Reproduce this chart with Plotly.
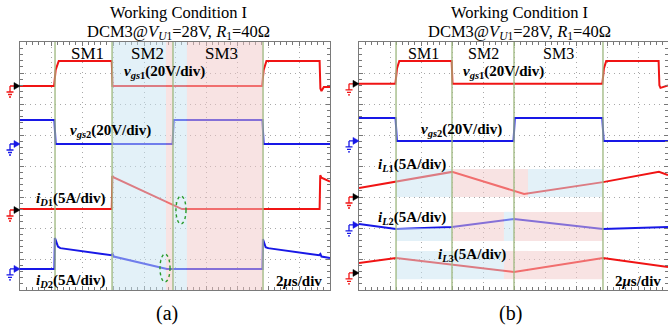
import plotly.graph_objects as go

FONT = "Liberation Serif"
RED = "#f01414"
BLUE = "#1818e6"
SHADE_BLUE = "rgba(200,228,242,0.5)"
SHADE_PINK = "rgba(242,200,200,0.5)"
EDGE_GREEN = "rgba(160,185,130,0.9)"

# ---------------- panel (a): time in us, level in screen divisions ----------------
a_vgs1_t = [0, 2.2, 2.3, 2.5, 5.92, 5.97, 15.62, 15.72, 15.9, 19.33, 19.38, 19.45, 19.6, 20]
a_vgs1_v = [6.58, 6.58, 7.1, 7.39, 7.39, 6.58, 6.58, 7.1, 7.39, 7.39, 6.5, 6.42, 6.55, 6.55]

a_vgs2_t = [0, 2.22, 2.3, 9.84, 9.92, 15.64, 15.72, 20]
a_vgs2_v = [5.48, 5.48, 4.71, 4.71, 5.48, 5.48, 4.71, 4.71]

a_iD1_t = [0, 5.92, 5.96, 6.05, 10.45, 19.33, 19.37, 19.45, 20]
a_iD1_v = [2.61, 2.61, 3.68, 3.63, 2.61, 2.61, 3.7, 3.62, 3.5]

a_iD2_t = [0, 2.22, 2.25, 2.45, 2.6, 5.9, 5.97, 6.05, 9.48, 15.64, 15.67, 15.85, 16.0, 19.3, 19.38, 19.45, 20]
a_iD2_v = [0.68, 0.68, 1.68, 1.4, 1.35, 1.12, 1.17, 1.08, 0.68, 0.68, 1.64, 1.38, 1.35, 1.12, 1.16, 1.08, 1.03]

a_edges = [2.26, 5.94, 9.87, 15.68]
a_bands = [(5.94, 9.42, SHADE_BLUE), (9.42, 9.87, SHADE_PINK),
           (9.87, 10.77, SHADE_BLUE), (10.77, 15.68, SHADE_PINK)]
a_ellipses = [(10.06, 10.71, 2.13, 3.03), (9.03, 9.68, 0.26, 1.16)]
a_grounds = [(6.58, RED, "black"), (4.71, BLUE, BLUE), (2.58, RED, "black"), (0.68, BLUE, BLUE)]

# ---------------- panel (b) ----------------
b_vgs1_t = [0, 2.35, 2.45, 2.6, 5.98, 6.03, 15.70, 15.8, 15.95, 19.33, 19.38, 19.45, 19.935]
b_vgs1_v = [6.65, 6.65, 7.15, 7.39, 7.39, 6.65, 6.65, 7.15, 7.39, 7.39, 6.6, 6.52, 6.6]

b_vgs2_t = [0, 2.36, 2.44, 9.97, 10.05, 15.7, 15.78, 19.935]
b_vgs2_v = [5.55, 5.55, 4.81, 4.81, 5.55, 5.55, 4.81, 4.81]

b_iL1_t = [0, 6.0, 10.65, 15.74, 19.35, 19.935]
b_iL1_v = [3.29, 3.81, 3.10, 3.48, 3.81, 3.71]

b_iL2_t = [0, 2.39, 6.0, 10.0, 15.74, 19.935]
b_iL2_v = [2.13, 1.97, 2.03, 2.29, 1.97, 2.03]

b_iL3_t = [0, 2.39, 10.0, 15.74, 19.935]
b_iL3_v = [0.87, 1.03, 0.58, 1.03, 0.74]

b_edges = [2.39, 6.0, 10.0, 15.74]
b_bands = [
    (2.39, 6.0, 3.0, 3.9, SHADE_BLUE), (6.0, 10.9, 3.0, 3.9, SHADE_PINK), (10.9, 15.74, 3.0, 3.9, SHADE_BLUE),
    (2.39, 6.0, 1.58, 2.0, SHADE_BLUE), (6.0, 9.35, 1.58, 2.52, SHADE_PINK),
    (9.35, 10.0, 1.58, 2.52, SHADE_BLUE), (10.0, 15.74, 1.58, 2.52, SHADE_PINK),
    (2.39, 9.35, 0.35, 1.26, SHADE_BLUE), (9.35, 10.9, 0.35, 1.26, SHADE_PINK),
    (10.9, 15.74, 0.35, 1.26, SHADE_PINK),
]
b_grounds = [(6.65, RED, "black"), (4.81, BLUE, BLUE), (3.0, RED, "black"),
             (2.10, BLUE, BLUE), (0.55, RED, "black")]

W, H = 668, 326
A_LEFT, A_RIGHT = 20, 330
B_LEFT = 359
TOP, BOTTOM = 42, 290

fig = go.Figure()


def add_trace(t, v, color, xa, ya):
    fig.add_trace(go.Scatter(x=t, y=v, mode="lines", xaxis=xa, yaxis=ya,
                             line=dict(color=color, width=2), hoverinfo="skip",
                             showlegend=False))


for t, v, c in [(a_vgs1_t, a_vgs1_v, RED), (a_vgs2_t, a_vgs2_v, BLUE),
                (a_iD1_t, a_iD1_v, RED), (a_iD2_t, a_iD2_v, BLUE)]:
    add_trace(t, v, c, "x", "y")
for t, v, c in [(b_vgs1_t, b_vgs1_v, RED), (b_vgs2_t, b_vgs2_v, BLUE),
                (b_iL1_t, b_iL1_v, RED), (b_iL2_t, b_iL2_v, BLUE), (b_iL3_t, b_iL3_v, RED)]:
    add_trace(t, v, c, "x2", "y2")

shapes = []
for x0, x1, col in a_bands:
    shapes.append(dict(type="rect", xref="x", yref="y", x0=x0, x1=x1, y0=0, y1=8,
                       fillcolor=col, line=dict(width=0), layer="above"))
for x0, x1, y0, y1, col in b_bands:
    shapes.append(dict(type="rect", xref="x2", yref="y2", x0=x0, x1=x1, y0=y0, y1=y1,
                       fillcolor=col, line=dict(width=0), layer="above"))
for xe in a_edges:
    shapes.append(dict(type="line", xref="x", yref="y", x0=xe, x1=xe, y0=0, y1=8,
                       line=dict(color=EDGE_GREEN, width=1.5), layer="above"))
for xe in b_edges:
    shapes.append(dict(type="line", xref="x2", yref="y2", x0=xe, x1=xe, y0=0, y1=8,
                       line=dict(color=EDGE_GREEN, width=1.5), layer="above"))
for x0, x1, y0, y1 in a_ellipses:
    shapes.append(dict(type="circle", xref="x", yref="y", x0=x0, x1=x1, y0=y0, y1=y1,
                       line=dict(color="#2a9a2a", width=1.4, dash="dot"), layer="above"))


def ground_marker(px, yref, level, gcol, acol):
    xa = px / W
    # ground symbol: lead, stem and three bars
    path = ("M -10 0 L -5 0 M -10 0 L -10 -6 M -13.5 -6 L -6.5 -6 "
            "M -12 -8.5 L -8 -8.5 M -11 -11 L -9 -11")
    shapes.append(dict(type="path", xref="paper", yref=yref, xsizemode="pixel",
                       ysizemode="pixel", xanchor=xa, yanchor=level, path=path,
                       line=dict(color=gcol, width=1.3)))
    shapes.append(dict(type="path", xref="paper", yref=yref, xsizemode="pixel",
                       ysizemode="pixel", xanchor=xa, yanchor=level,
                       path="M -6 3.5 L 0 0 L -6 -3.5 Z", fillcolor=acol,
                       line=dict(color=acol, width=0.5)))


for lvl, g, a in a_grounds:
    ground_marker(A_LEFT, "y", lvl, g, a)
for lvl, g, a in b_grounds:
    ground_marker(B_LEFT, "y2", lvl, g, a)

ann = []


def label(text, x, y, xref, yref, size=15, color="black"):
    ann.append(dict(text=text, x=x, y=y, xref=xref, yref=yref, showarrow=False,
                    xanchor="center", yanchor="middle",
                    font=dict(family=FONT, size=size, color=color)))


VGS1 = "<b><i>v</i><sub><i>gs</i>1</sub>(20V/div)</b>"
VGS2 = "<b><i>v</i><sub><i>gs</i>2</sub>(20V/div)</b>"
TDIV = "<b>2<i>μ</i>s/div</b>"

label("SM1", 4.35, 7.62, "x", "y", 17)
label("SM2", 8.2, 7.62, "x", "y", 17)
label("SM3", 13.0, 7.62, "x", "y", 17)
label(VGS1, 9.35, 7.03, "x", "y")
label(VGS2, 5.84, 5.13, "x", "y")
label("<b><i>i</i><sub><i>D</i>1</sub>(5A/div)</b>", 3.32, 2.94, "x", "y")
label("<b><i>i</i><sub><i>D</i>2</sub>(5A/div)</b>", 3.29, 0.29, "x", "y")
label(TDIV, 18.03, 0.29, "x", "y")

label("SM1", 4.19, 7.62, "x2", "y2", 16)
label("SM2", 8.03, 7.62, "x2", "y2", 16)
label("SM3", 12.9, 7.62, "x2", "y2", 16)
label(VGS1, 9.35, 7.03, "x2", "y2")
label(VGS2, 6.61, 5.16, "x2", "y2")
label("<b><i>i</i><sub><i>L</i>1</sub>(5A/div)</b>", 3.39, 4.03, "x2", "y2")
label("<b><i>i</i><sub><i>L</i>2</sub>(5A/div)</b>", 3.39, 2.32, "x2", "y2")
label("<b><i>i</i><sub><i>L</i>3</sub>(5A/div)</b>", 7.26, 1.13, "x2", "y2")
label(TDIV, 18.0, 0.29, "x2", "y2")

for cx in (178, 519):
    label("Working Condition I", cx / W, 1 - 13 / H, "paper", "paper", 16.5)
    label("DCM3@<i>V</i><sub><i>U</i>1</sub>=28V, <i>R</i><sub>1</sub>=40Ω",
          cx / W, 1 - 32 / H, "paper", "paper", 16.5)
label("(a)", 167 / W, 1 - 313 / H, "paper", "paper", 20)
label("(b)", 511 / W, 1 - 313 / H, "paper", "paper", 20)


def xaxis(domain, rng, anchor):
    return dict(domain=domain, range=rng, anchor=anchor, dtick=2, tick0=0,
                showticklabels=False, ticks="inside", ticklen=4, tickcolor="#777",
                showgrid=True, gridcolor="#a8a8a8", griddash="1px,4px", gridwidth=1,
                minor=dict(dtick=0.4, ticks="inside", ticklen=3, tickcolor="#777",
                           showgrid=False),
                showline=True, linecolor="#7a7a7a", linewidth=1, mirror="allticks",
                zeroline=False, fixedrange=True)


def yaxis(domain, anchor):
    return dict(domain=domain, range=[0, 8], anchor=anchor, dtick=1, tick0=0,
                showticklabels=False, ticks="inside", ticklen=4, tickcolor="#777",
                showgrid=True, gridcolor="#a8a8a8", griddash="1px,4px", gridwidth=1,
                minor=dict(dtick=0.2, ticks="inside", ticklen=3, tickcolor="#777",
                           showgrid=False),
                showline=True, linecolor="#7a7a7a", linewidth=1, mirror="allticks",
                zeroline=False, fixedrange=True)


ydom = [1 - BOTTOM / H, 1 - TOP / H]
fig.update_layout(
    width=W, height=H, margin=dict(l=0, r=0, t=0, b=0),
    paper_bgcolor="white", plot_bgcolor="white", showlegend=False,
    xaxis=xaxis([A_LEFT / W, A_RIGHT / W], [0, 20], "y"),
    yaxis=yaxis(ydom, "x"),
    xaxis2=xaxis([B_LEFT / W, 1.0], [0, (W - B_LEFT) / 15.5], "y2"),
    yaxis2=yaxis(ydom, "x2"),
    shapes=shapes, annotations=ann,
)

fig.write_html("out.html")
